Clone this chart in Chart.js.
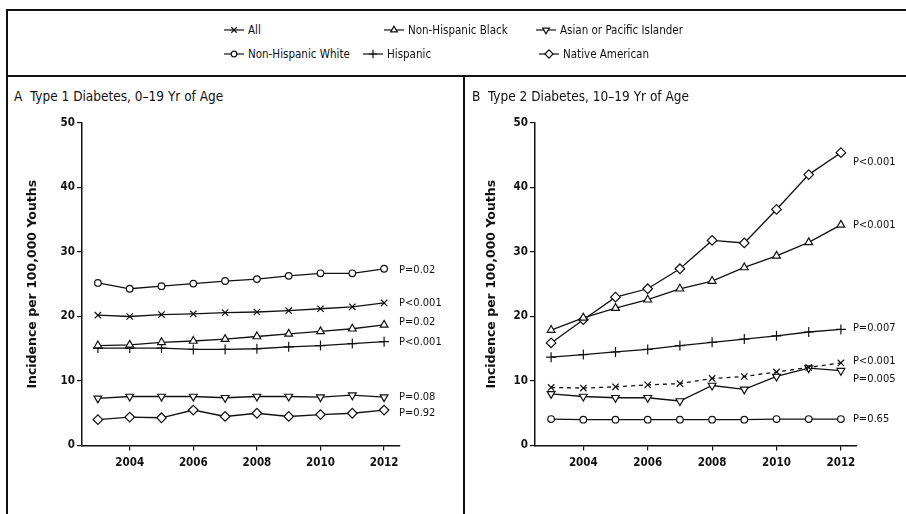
<!DOCTYPE html>
<html>
<head>
<meta charset="utf-8">
<script src="https://cdn.jsdelivr.net/npm/chart.js@4.4.1/dist/chart.umd.min.js"></script>
<style>
  body { margin: 0; background: #fff; width: 906px; height: 514px; overflow: hidden; position: relative;
         font-family: "DejaVu Sans Condensed", "DejaVu Sans", sans-serif; color: #111; }
  .rule { position: absolute; background: #111; }
  .box { position: absolute; }
  .ptitle { position: absolute; font-size: 13.5px; white-space: nowrap; }
  .leg { position: absolute; font-size: 11.5px; white-space: nowrap; display: flex; align-items: center; height: 16px; }
  .leg canvas { margin-right: 3px; }
</style>
</head>
<body>
<div class="rule" style="left:6px;top:9px;width:900px;height:1.5px"></div>
<div class="rule" style="left:6px;top:75px;width:900px;height:1.5px"></div>
<div class="rule" style="left:6px;top:9px;width:1.5px;height:505px"></div>
<div class="rule" style="left:463px;top:75px;width:1.5px;height:439px"></div>

<div id="legend"></div>

<div class="ptitle" style="left:14px;top:88px">A&nbsp;&nbsp;Type 1 Diabetes, 0–19 Yr of Age</div>
<div class="ptitle" style="left:472px;top:88px">B&nbsp;&nbsp;Type 2 Diabetes, 10–19 Yr of Age</div>

<div class="box" style="left:6px;top:75px;width:457px;height:439px"><canvas id="chartA"></canvas></div>
<div class="box" style="left:463px;top:75px;width:443px;height:439px"><canvas id="chartB"></canvas></div>

<script>
// survey years and axis ticks
const years = [2003, 2004, 2005, 2006, 2007, 2008, 2009, 2010, 2011, 2012];
const xTicks = [2004, 2006, 2008, 2010, 2012];
const yTicks = [0, 10, 20, 30, 40, 50];

const groups = ["All", "Non-Hispanic White", "Non-Hispanic Black", "Hispanic", "Asian or Pacific Islander", "Native American"];

// panel A: type 1, 0-19 yr
const t1All = [20.2, 20.0, 20.3, 20.4, 20.6, 20.7, 20.9, 21.2, 21.5, 22.1];
const t1White = [25.2, 24.3, 24.7, 25.1, 25.5, 25.8, 26.3, 26.7, 26.7, 27.4];
const t1Black = [15.5, 15.6, 16.0, 16.2, 16.5, 16.9, 17.3, 17.7, 18.1, 18.7];
const t1Hispanic = [15.1, 15.1, 15.1, 14.9, 14.9, 15.0, 15.3, 15.5, 15.8, 16.1];
const t1Asian = [7.3, 7.6, 7.6, 7.6, 7.4, 7.6, 7.6, 7.5, 7.8, 7.5];
const t1Native = [4.0, 4.4, 4.3, 5.5, 4.5, 5.0, 4.5, 4.8, 5.0, 5.5];
const t1P = ["P<0.001", "P=0.02", "P=0.02", "P<0.001", "P=0.08", "P=0.92"];

// panel B: type 2, 10-19 yr
const t2All = [9.0, 8.9, 9.1, 9.4, 9.6, 10.4, 10.7, 11.4, 12.1, 12.8];
const t2White = [4.1, 4.0, 4.0, 4.0, 4.0, 4.0, 4.0, 4.1, 4.1, 4.1];
const t2Black = [17.9, 19.8, 21.3, 22.6, 24.3, 25.5, 27.6, 29.4, 31.5, 34.2];
const t2Hispanic = [13.7, 14.1, 14.5, 14.9, 15.5, 16.0, 16.5, 17.0, 17.6, 18.0];
const t2Asian = [8.0, 7.6, 7.4, 7.4, 6.9, 9.3, 8.7, 10.7, 12.0, 11.6];
const t2Native = [15.9, 19.5, 23.0, 24.3, 27.4, 31.8, 31.4, 36.6, 42.0, 45.4];
const t2P = ["P<0.001", "P=0.65", "P<0.001", "P=0.007", "P=0.005", "P<0.001"];

const markers = [
  { pointStyle: "crossRot", radius: 4.5, rotation: 0 },
  { pointStyle: "circle", radius: 3.3, rotation: 0 },
  { pointStyle: "triangle", radius: 4.5, rotation: 0 },
  { pointStyle: "cross", radius: 5, rotation: 0 },
  { pointStyle: "triangle", radius: 4.5, rotation: 180 },
  { pointStyle: "rectRot", radius: 4.8, rotation: 0 },
];

const INK = "#111";
const TICK_FONT = '"DejaVu Sans Condensed", "DejaVu Sans", sans-serif';

// legend, html text with tiny canvases for the symbols
const legendPos = [[223, 22], [223, 46], [383, 22], [362, 46], [535, 22], [538, 46]];
const legend = document.getElementById("legend");
groups.forEach((g, i) => {
  const div = document.createElement("div");
  div.className = "leg";
  div.style.left = legendPos[i][0] + "px";
  div.style.top = legendPos[i][1] + "px";
  const c = document.createElement("canvas");
  c.width = 22; c.height = 14;
  c.style.width = "22px"; c.style.height = "14px";
  const ctx = c.getContext("2d");
  ctx.strokeStyle = INK; ctx.lineWidth = 1.2;
  ctx.beginPath(); ctx.moveTo(1, 7); ctx.lineTo(21, 7); ctx.stroke();
  ctx.fillStyle = "#fff";
  Chart.helpers.drawPoint(ctx, { ...markers[i], radius: markers[i].radius * 0.85, borderWidth: 1.2 }, 11, 7);
  div.appendChild(c);
  const span = document.createElement("span");
  span.textContent = g;
  div.appendChild(span);
  legend.appendChild(div);
});

function makeSets(series, dashedAll) {
  return series.map((vals, i) => ({
    label: groups[i],
    data: vals.map((v, k) => ({ x: years[k], y: v })),
    borderColor: INK,
    borderWidth: 1.3,
    borderDash: (dashedAll && i === 0) ? [4, 4] : [],
    backgroundColor: "#fff",
    pointBackgroundColor: "#fff",
    pointBorderColor: INK,
    pointBorderWidth: 1.2,
    pointStyle: markers[i].pointStyle,
    pointRadius: markers[i].radius,
    pointRotation: markers[i].rotation,
    tension: 0,
  }));
}

const pLabelPlugin = {
  id: "pLabels",
  afterDatasetsDraw(chart, args, opts) {
    const { ctx } = chart;
    const xs = chart.scales.x, ys = chart.scales.y;
    ctx.save();
    ctx.font = "11px " + TICK_FONT;
    ctx.fillStyle = INK;
    ctx.textBaseline = "middle";
    chart.data.datasets.forEach((ds, i) => {
      const last = ds.data[ds.data.length - 1];
      const x = xs.getPixelForValue(last.x) + opts.dx;
      const y = ys.getPixelForValue(last.y) + opts.nudge[i];
      ctx.fillText(opts.labels[i], x, y);
    });
    ctx.restore();
  },
};

function makeChart(id, series, pvals, nudge, axisWidth, titlePad, padRight, dashedAll, dx) {
  return new Chart(document.getElementById(id), {
    type: "line",
    data: { datasets: makeSets(series, dashedAll) },
    plugins: [pLabelPlugin],
    options: {
      responsive: true,
      maintainAspectRatio: false,
      animation: false,
      layout: { padding: { top: 48, right: padRight, bottom: 0, left: 0 } },
      plugins: {
        legend: { display: false },
        tooltip: { enabled: false },
        pLabels: { labels: pvals, nudge: nudge, dx: dx },
      },
      scales: {
        x: {
          type: "linear",
          min: 2002.5,
          max: 2012.5,
          afterBuildTicks: (s) => { s.ticks = xTicks.map((v) => ({ value: v })); },
          afterFit: (s) => { s.height = 68.5; },
          border: { display: true, color: INK, width: 1.5 },
          grid: { display: true, drawOnChartArea: false, drawTicks: true, tickLength: 5, color: INK, lineWidth: 1.2 },
          ticks: {
            color: INK, padding: 6, maxRotation: 0,
            font: { family: TICK_FONT, size: 11.5, weight: "bold" },
            callback: (v) => String(v),
          },
        },
        y: {
          min: 0,
          max: 50,
          afterBuildTicks: (s) => { s.ticks = yTicks.map((v) => ({ value: v })); },
          afterFit: (s) => { s.width = axisWidth; },
          border: { display: true, color: INK, width: 1.5 },
          grid: { display: true, drawOnChartArea: false, drawTicks: true, tickLength: 5, color: INK, lineWidth: 1.2 },
          ticks: {
            color: INK, padding: 2,
            font: { family: TICK_FONT, size: 11.5, weight: "bold" },
          },
          title: {
            display: true,
            text: "Incidence per 100,000 Youths",
            color: INK,
            padding: { top: titlePad, bottom: 0 },
            font: { family: '"DejaVu Sans", sans-serif', size: 12.5, weight: "bold" },
          },
        },
      },
    },
  });
}

makeChart("chartA",
  [t1All, t1White, t1Black, t1Hispanic, t1Asian, t1Native], t1P,
  [0, 1, -3, 0, 0, 3], 76, 19, 63, false, 15);
makeChart("chartB",
  [t2All, t2White, t2Black, t2Hispanic, t2Asian, t2Native], t2P,
  [-2, 0, 0, -1, 8, 9], 72, 21, 49, true, 12);
</script>
</body>
</html>
